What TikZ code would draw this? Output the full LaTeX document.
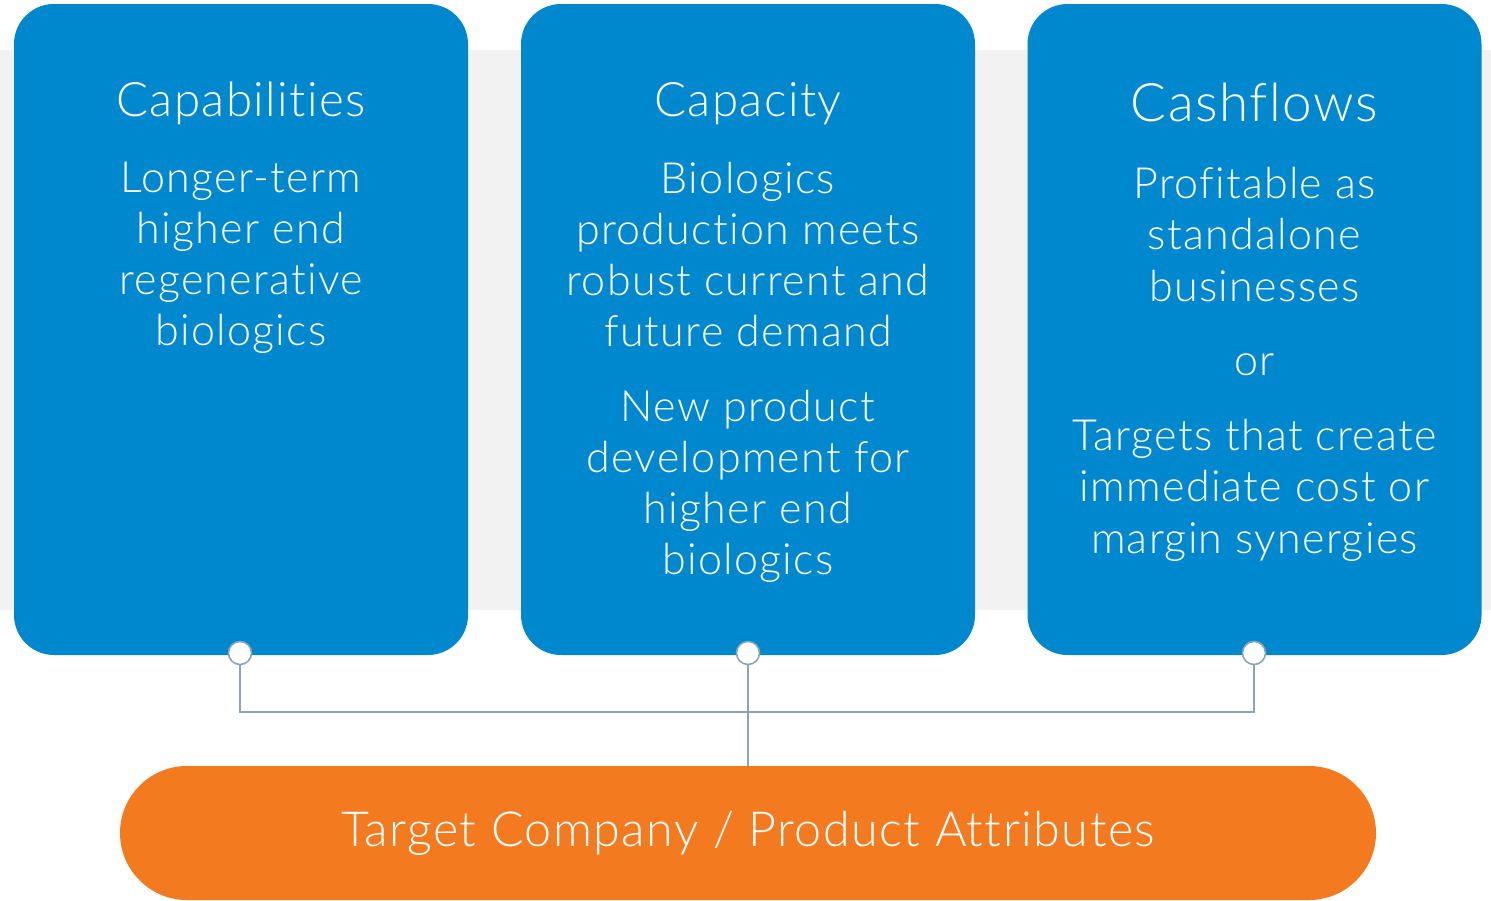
\documentclass[tikz,border=0pt]{standalone}
\usepackage{fontspec}
\setmainfont{Lato}[UprightFont=* Light, LetterSpace=3, Ligatures=NoCommon]
\usetikzlibrary{positioning}
\definecolor{tgblue}{HTML}{0088CE}
\definecolor{tgorange}{HTML}{F47A20}
\definecolor{tgband}{HTML}{F2F2F2}
\definecolor{tgwire}{HTML}{8AA5B7}
\definecolor{tgpage}{HTML}{FFFFFF}
\tikzset{
  tgpillar/.style={
    fill=tgblue,
    rounded corners=40pt,
    minimum width=454pt,
    minimum height=651pt,
    inner sep=0pt
  },
  tgtitle/.style={
    anchor=base,
    text=tgpage,
    font=\fontsize{47.5}{52}\selectfont
  },
  % multi-line text sits on the baseline of its last line
  tgbody/.style={
    anchor=base,
    text=tgpage,
    align=center,
    inner sep=0pt,
    font=\fontsize{43}{51}\selectfont
  },
  tgbase/.style={
    fill=tgorange,
    rounded corners=67pt,
    minimum width=1256pt,
    minimum height=134pt,
    text=tgpage,
    font=\fontsize{48.4}{56}\selectfont
  },
  tgjoint/.style={
    circle,
    draw=tgwire,
    fill=tgpage,
    line width=1.6pt,
    minimum size=23pt,
    inner sep=0pt
  },
  tglink/.style={
    draw=tgwire,
    line width=1.8pt
  }
}
\begin{document}
\begin{tikzpicture}[x=1pt,y=-1pt]
  \useasboundingbox (0,0) rectangle (1491,900);
  \fill[tgband] (0,50) rectangle (1491,610);

  % three pillars
  \node[tgpillar] (capab) at (241,329.5) {};
  \node[tgpillar] (capac) at (748,329.5) {};
  \node[tgpillar] (cash) at (1254.5,329.5) {};

  \node[tgtitle] (capabtitle) at (241,116) {Capabilities};
  \node[tgtitle] (capactitle) at (748,116) {Capacity};
  \node[tgtitle, font=\fontsize{53}{58}\selectfont] (cashtitle) at (1254.5,121) {Cashflows};

  \node[tgbody] (capabtext) at (241,345) {Longer-term\\higher end\\regenerative\\biologics};
  \node[tgbody] (capactext) at (748,574) {Biologics\\production meets\\robust current and\\future demand\\[24pt]
    New product\\development for\\higher end\\biologics};
  \node[tgbody, font=\fontsize{43}{51.5}\selectfont] (cashtext) at (1254.5,553) {Profitable as\\standalone\\businesses\\[23pt]
    or\\[23pt]
    Targets that create\\immediate cost or\\margin synergies};

  % attribute bar
  \node[tgbase] (attr) at (748,833) {Target Company / Product Attributes};

  % joints on the pillar edges
  \node[tgjoint] (capabjoint) at (240,653) {};
  \node[tgjoint] (capacjoint) at (748,653) {};
  \node[tgjoint] (cashjoint) at (1254,653) {};
  \coordinate (bus) at (748,712);

  \draw[tglink] (capabjoint.south) |- (bus) -| (cashjoint.south);
  \draw[tglink] (capacjoint.south) -- (attr.north);
\end{tikzpicture}
\end{document}
